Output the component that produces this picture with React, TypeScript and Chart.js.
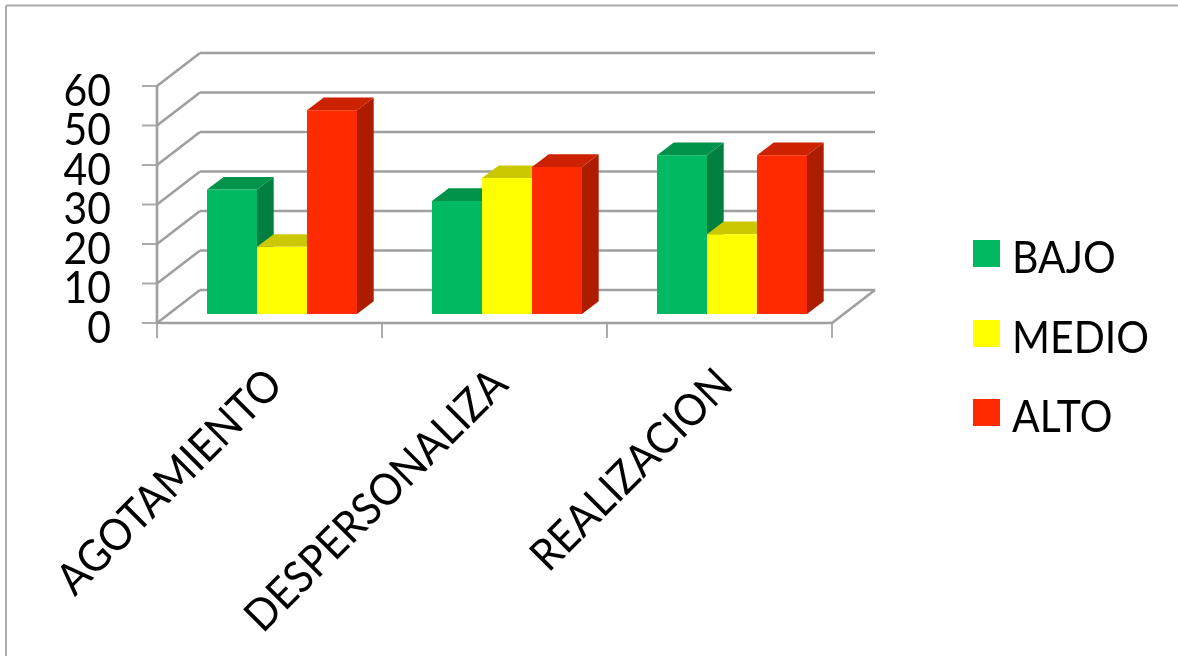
import React, { useEffect, useRef } from "react";
import { Chart, registerables } from "chart.js";

Chart.register(...registerables);

const categories = ["AGOTAMIENTO", "DESPERSONALIZA", "REALIZACION"];
const seriesNames = ["BAJO", "MEDIO", "ALTO"];
const bajo = [31.5, 28.6, 40.2];
const medio = [17, 34.4, 20.2];
const alto = [51.6, 37.2, 40.2];
const seriesValues = [bajo, medio, alto];

const frontColors = ["#00B960", "#FFFF00", "#FF2A00"];
const topColors = ["#009349", "#CCC800", "#CC2200"];
const sideColors = ["#008040", "#B0AC00", "#AE1C00"];

const GRID = "#9F9F9F";
const TICK = "#ABABAB";
const FONT = '"Lato", "Open Sans", sans-serif';
const FONT_SIZE = 44;
const TEXT_SQUEEZE = 0.93;

// Projection of the pseudo-3D box, measured from the plane the bars stand on.
const FRONT = { dx: -12.5, dy: 9 };
const BACK = { dx: 30.5, dy: -24 };
const BAR_DEPTH = { dx: 16.7, dy: -12.7 };

const line = (ctx: CanvasRenderingContext2D, x1: number, y1: number, x2: number, y2: number) => {
  ctx.beginPath();
  ctx.moveTo(x1, y1);
  ctx.lineTo(x2, y2);
  ctx.stroke();
};

const poly = (ctx: CanvasRenderingContext2D, color: string, pts: number[][]) => {
  ctx.fillStyle = color;
  ctx.beginPath();
  pts.forEach(([x, y], i) => (i ? ctx.lineTo(x, y) : ctx.moveTo(x, y)));
  ctx.closePath();
  ctx.fill();
};

// Text a little taller than it is wide, anchored on its baseline at the origin.
const squeezedText = (ctx: CanvasRenderingContext2D, text: string, align: CanvasTextAlign) => {
  ctx.scale(TEXT_SQUEEZE, 1);
  ctx.textAlign = align;
  ctx.textBaseline = "alphabetic";
  ctx.fillText(text, 0, 0);
};

// Frame, walls, floor and the top and side faces of the bars.
const boxPlugin = {
  id: "box3d",
  beforeDatasetsDraw(chart: any) {
    const { ctx, chartArea, scales } = chart;
    const { y } = scales;
    const frontL = chartArea.left + FRONT.dx;
    const frontR = chartArea.right + FRONT.dx;
    const backL = chartArea.left + BACK.dx;
    const backR = chartArea.right + BACK.dx;
    const zero = y.getPixelForValue(0);
    const top = y.getPixelForValue(y.max);
    ctx.save();

    ctx.strokeStyle = TICK;
    ctx.lineWidth = 2;
    line(ctx, 6, 5.5, chart.width, 5.5);
    line(ctx, 6, 5.5, 6, chart.height);

    y.ticks.forEach((t: any) => {
      const fy = y.getPixelForValue(t.value) + FRONT.dy;
      line(ctx, frontL - 15, fy, frontL, fy);
    });
    const step = (frontR - frontL) / categories.length;
    for (let i = 0; i <= categories.length; i++) {
      const tx = frontL + i * step;
      line(ctx, tx, zero + FRONT.dy, tx, zero + FRONT.dy + 15);
    }

    ctx.strokeStyle = GRID;
    ctx.lineWidth = 2.6;
    y.ticks.forEach((t: any) => {
      const py = y.getPixelForValue(t.value);
      line(ctx, frontL, py + FRONT.dy, backL, py + BACK.dy);
      line(ctx, backL, py + BACK.dy, backR, py + BACK.dy);
    });
    line(ctx, frontL, top + FRONT.dy, frontL, zero + FRONT.dy);
    line(ctx, frontL, zero + FRONT.dy, frontR, zero + FRONT.dy);
    line(ctx, frontR, zero + FRONT.dy, backR, zero + BACK.dy);

    seriesValues.forEach((_, s) => {
      chart.getDatasetMeta(s).data.forEach((bar: any) => {
        const l = bar.x - bar.width / 2;
        const r = bar.x + bar.width / 2;
        const { dx, dy } = BAR_DEPTH;
        poly(ctx, sideColors[s], [
          [r, bar.y],
          [r + dx, bar.y + dy],
          [r + dx, bar.base + dy],
          [r, bar.base],
        ]);
        poly(ctx, topColors[s], [
          [l, bar.y],
          [l + dx, bar.y + dy],
          [r + dx, bar.y + dy],
          [r, bar.y],
        ]);
      });
    });
    ctx.restore();
  },
  // Axis labels sit on the front edge of the box, the legend to its right.
  afterDraw(chart: any) {
    const { ctx, scales } = chart;
    const { x, y } = scales;
    ctx.save();
    ctx.fillStyle = "#000";
    ctx.font = `${FONT_SIZE}px ${FONT}`;

    y.ticks.forEach((t: any) => {
      ctx.save();
      ctx.translate(111, y.getPixelForValue(t.value) + FRONT.dy + 19.5);
      squeezedText(ctx, String(t.value), "right");
      ctx.restore();
    });

    categories.forEach((name, i) => {
      ctx.save();
      ctx.translate(x.getPixelForValue(i) + FRONT.dx + 15.5, y.getPixelForValue(0) + FRONT.dy + 64);
      ctx.rotate(-Math.PI / 4);
      squeezedText(ctx, name, "right");
      ctx.restore();
    });

    seriesNames.forEach((name, i) => {
      const ly = Math.round(240 + i * 79.5);
      ctx.fillStyle = frontColors[i];
      ctx.fillRect(973, ly, 27, 27);
      ctx.fillStyle = "#000";
      ctx.save();
      ctx.translate(1012, ly + 33);
      squeezedText(ctx, name, "left");
      ctx.restore();
    });
    ctx.restore();
  },
};

export default function App() {
  const ref = useRef<HTMLCanvasElement>(null);
  useEffect(() => {
    const chart = new Chart(ref.current!, {
      type: "bar",
      data: {
        labels: categories,
        datasets: seriesNames.map((label, i) => ({
          label,
          data: seriesValues[i],
          backgroundColor: frontColors[i],
          borderWidth: 0,
          barPercentage: 1,
          categoryPercentage: 150 / 225,
        })),
      },
      options: {
        responsive: false,
        animation: false,
        layout: { padding: { left: 169.5, right: 333.5, top: 77, bottom: 342 } },
        plugins: { legend: { display: false }, tooltip: { enabled: false } },
        scales: {
          x: { display: false },
          y: { display: false, min: 0, max: 60, ticks: { stepSize: 10 } },
        },
      },
      plugins: [boxPlugin],
    } as any);
    return () => chart.destroy();
  }, []);
  return (
    <canvas
      ref={ref}
      width={1178}
      height={656}
      style={{ position: "absolute", left: 0, top: 0, display: "block" }}
    />
  );
}
